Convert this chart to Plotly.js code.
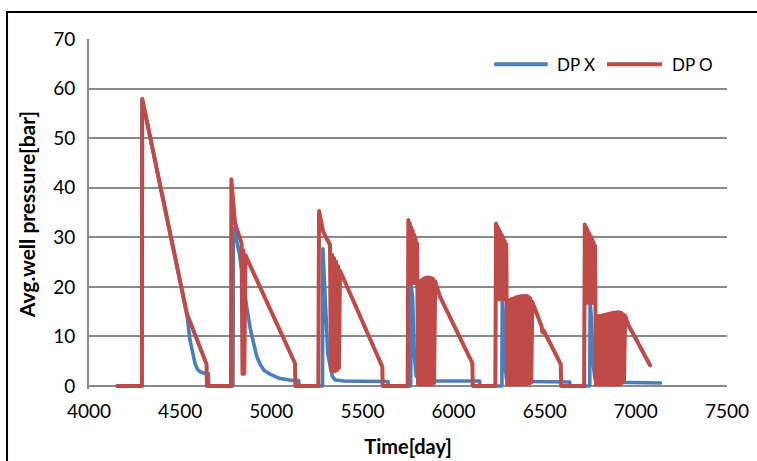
<!DOCTYPE html>
<html>
<head>
<meta charset="utf-8">
<script src="https://cdn.plot.ly/plotly-3.0.1.min.js"></script>
<style>
  html, body { margin: 0; padding: 0; background: #fff; }
  #chart { width: 757px; height: 461px; }
  path.js-line { stroke-linejoin: round; stroke-linecap: round; }
</style>
</head>
<body>
<div id="chart"></div>
<script>
// Average well pressure over time for the two drawdown cases.
// DP X : pressure history without oscillating control
const dpX_day = [
  4155, 4290, 4292, 4536, 4554, 4570, 4581, 4595, 4609, 4630, 4655, 4657,
  4790, 4792, 4798, 4825, 4845, 4865, 4885, 4901, 4920, 4940, 4960, 4993, 5048, 5100, 5150, 5154,
  5281, 5283, 5290, 5298, 5310, 5322, 5335, 5350, 5400, 5500, 5640, 5642,
  5765, 5767, 5775, 5785, 5795, 5820, 5900, 6143, 6145,
  6265, 6267, 6272, 6280, 6290, 6310, 6400, 6500, 6637, 6639,
  6747, 6749, 6755, 6765, 6775, 6800, 6960, 7135
];
const dpX_bar = [
  0, 0, 57.9, 14.7, 9.3, 6.0, 4.6, 3.4, 2.9, 2.6, 2.5, 0,
  0, 31.8, 31.5, 26.7, 21.0, 16.0, 11.5, 8.6, 6.0, 4.3, 3.2, 2.4, 1.5, 1.2, 1.1, 0,
  0, 27.7, 22.0, 13.0, 6.5, 4.2, 2.0, 1.2, 1.0, 0.95, 0.9, 0,
  0, 20.4, 18.0, 6.0, 2.0, 1.2, 1.0, 1.0, 0,
  0, 18.0, 15.0, 5.0, 1.5, 1.0, 0.9, 0.8, 0.8, 0,
  0, 17.3, 14.0, 5.0, 1.5, 0.8, 0.7, 0.6
];

// DP O : pressure history with oscillating control
const dpO_day = [
  4155, 4290, 4292, 4536, 4645, 4647, 4779,
  4781, 4801, 4837, 4842, 4847, 4852, 4858, 5130, 5132, 5258,
  5262, 5285, 5313, 5322, 5327, 5333, 5338, 5344, 5349, 5355, 5360, 5366, 5371, 5377, 5609, 5611, 5748,
  5752, 5756, 5760, 5764, 5768, 5772, 5776, 5780, 5784, 5788, 5792, 5796, 5800,
  5805, 5811, 5816, 5822, 5827, 5833, 5838, 5844, 5849, 5855, 5860, 5866, 5871, 5877, 5882, 5888, 5893, 5899,
  5926, 6103, 6105, 6229,
  6233, 6237, 6241, 6245, 6249, 6253, 6257, 6261, 6265, 6269, 6273, 6277, 6281, 6285, 6289,
  6294, 6300, 6305, 6311, 6316, 6322, 6327, 6333, 6338, 6344, 6349, 6355, 6360, 6366, 6371, 6377, 6382,
  6388, 6393, 6399, 6404, 6410, 6415, 6421, 6426, 6432,
  6456, 6483, 6488, 6494, 6588, 6590, 6716,
  6720, 6724, 6728, 6732, 6736, 6740, 6744, 6748, 6752, 6756, 6760, 6764, 6768, 6772, 6776,
  6781, 6787, 6792, 6798, 6803, 6809, 6814, 6820, 6825, 6831, 6836, 6842, 6847, 6853, 6858, 6864, 6869,
  6875, 6880, 6886, 6891, 6897, 6902, 6908, 6913, 6919, 6924, 6930, 6935, 6941,
  6959, 7078
];
const dpO_bar = [
  0, 0, 57.9, 14.7, 4.4, 0, 0,
  41.7, 32.9, 28.8, 2.5, 27.4, 2.5, 26.4, 4.6, 0, 0,
  35.3, 31.1, 29.1, 28.5, 3.2, 26.5, 3.0, 25.8, 3.0, 25.1, 3.2, 24.2, 3.6, 23.3, 3.9, 0, 0,
  33.5, 20.8, 32.8, 20.8, 32.0, 20.8, 31.3, 20.8, 30.5, 20.8, 29.7, 20.8, 28.8,
  0.3, 20.9, 0.3, 21.3, 0.3, 21.6, 0.3, 21.8, 0.3, 21.9, 0.3, 21.9, 0.3, 21.8, 0.4, 21.6, 0.6, 21.1,
  18.0, 4.6, 0, 0,
  32.8, 17.5, 32.2, 17.5, 31.6, 17.5, 31.0, 17.5, 30.4, 17.5, 29.8, 17.5, 29.2, 17.5, 28.6,
  0.3, 17.3, 0.3, 17.4, 0.3, 17.6, 0.3, 17.7, 0.3, 17.9, 0.3, 18.0, 0.3, 18.1, 0.3, 18.1, 0.3,
  18.2, 0.3, 18.2, 0.4, 18.0, 0.5, 17.7, 0.7, 17.0,
  14.6, 12.0, 10.8, 11.2, 4.4, 0, 0,
  32.6, 16.8, 32.0, 16.8, 31.4, 16.8, 30.8, 16.8, 30.2, 16.8, 29.6, 16.8, 29.0, 16.8, 28.3,
  0.3, 14.0, 0.3, 14.1, 0.3, 14.2, 0.3, 14.3, 0.3, 14.4, 0.3, 14.5, 0.3, 14.6, 0.3, 14.7, 0.3,
  14.8, 0.3, 14.8, 0.3, 14.9, 0.3, 14.9, 0.4, 14.8, 0.6, 14.5, 1.0, 14.2,
  12.3, 4.2
];

const xTicks = [4000, 4500, 5000, 5500, 6000, 6500, 7000, 7500];
const yTicks = [0, 10, 20, 30, 40, 50, 60, 70];
const seriesNames = ['DP X', 'DP O'];
const seriesColors = ['#4a7ebb', '#be4b48'];

const FONT = 'Lato, "Liberation Sans", sans-serif';
const GRID = '#8a8a8a';

const traces = [
  { x: dpX_day, y: dpX_bar, name: seriesNames[0], mode: 'lines',
    line: { color: seriesColors[0], width: 3.6 } },
  { x: dpO_day, y: dpO_bar, name: seriesNames[1], mode: 'lines',
    line: { color: seriesColors[1], width: 4 } }
];

// Hand-built legend: long line keys followed by the series names.
const legendKeys = [
  { x0: 0.635, x1: 0.719, tx: 0.731 },
  { x0: 0.812, x1: 0.898, tx: 0.910 }
];
const legendY = 0.928;
const shapes = [
  // outer chart frame (only its top and left edges fall inside the page)
  { type: 'rect', xref: 'paper', yref: 'paper', x0: -0.1285, x1: 1.3, y0: -0.6, y1: 1.077,
    line: { color: '#000', width: 2 }, fillcolor: 'rgba(0,0,0,0)', layer: 'above' }
];
const annotations = [];
legendKeys.forEach((k, i) => {
  shapes.push({ type: 'line', xref: 'paper', yref: 'paper', x0: k.x0, x1: k.x1, y0: legendY, y1: legendY,
    line: { color: seriesColors[i], width: 4 } });
  annotations.push({ xref: 'paper', yref: 'paper', x: k.tx, y: legendY, xanchor: 'left', yanchor: 'middle',
    text: seriesNames[i], showarrow: false, font: { family: FONT, size: 17, color: '#000' } });
});

const layout = {
  width: 757, height: 461,
  margin: { l: 89, r: 30, t: 39, b: 72, pad: 0 },
  paper_bgcolor: '#fff', plot_bgcolor: '#fff',
  showlegend: false,
  font: { family: FONT, size: 18, color: '#000' },
  xaxis: {
    range: [4000, 7500], tickvals: xTicks, ticktext: xTicks.map(String),
    showgrid: false, zeroline: false, showline: false, ticks: '',
    ticklabelstandoff: 9,
    tickfont: { family: FONT, size: 19, color: '#000' },
    title: { text: '<b>Time[day]</b>', font: { family: FONT, size: 20, color: '#000' }, standoff: 18 }
  },
  yaxis: {
    range: [-0.6, 70], tickvals: yTicks, ticktext: yTicks.map(String),
    showgrid: true, gridcolor: GRID, gridwidth: 2,
    zeroline: false, showline: true, linecolor: GRID, linewidth: 2, ticks: '',
    ticklabelstandoff: 8,
    tickfont: { family: FONT, size: 19, color: '#000' },
    title: { text: '<b>Avg.well pressure[bar]</b>', font: { family: FONT, size: 21, color: '#000' }, standoff: 12 }
  },
  shapes: shapes,
  annotations: annotations
};

Plotly.newPlot('chart', traces, layout, { displayModeBar: false, staticPlot: true });
</script>
</body>
</html>
